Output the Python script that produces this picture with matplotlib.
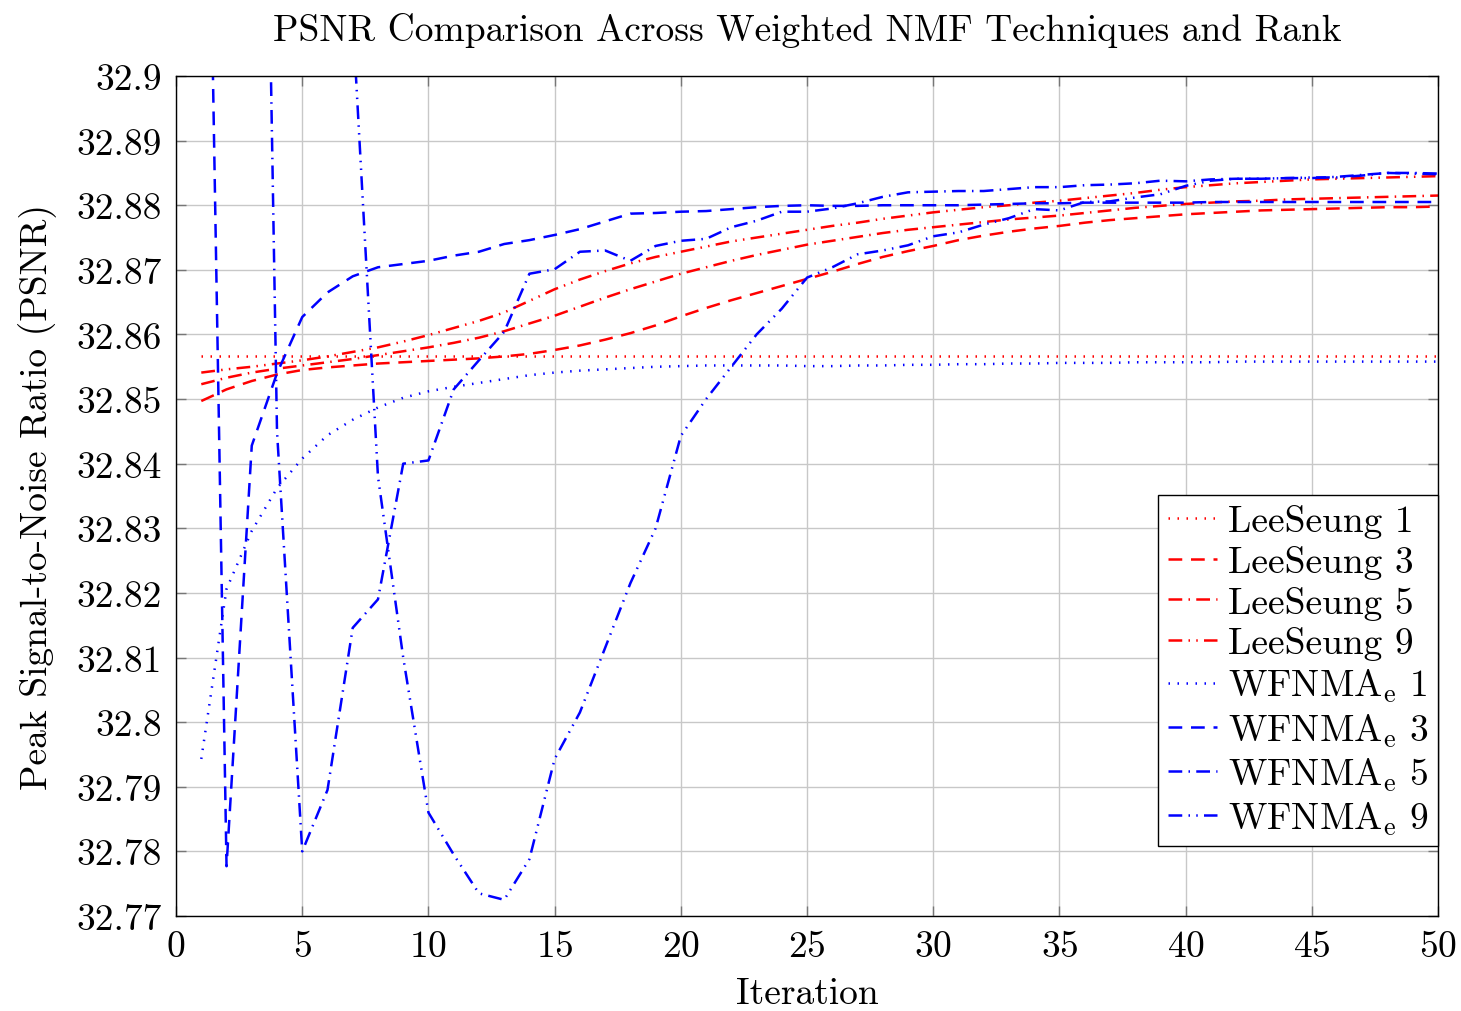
import matplotlib
matplotlib.use("Agg")
import matplotlib.pyplot as plt
from matplotlib.ticker import FuncFormatter, MultipleLocator

plt.rcParams['font.family'] = 'serif'
plt.rcParams['font.serif'] = ['cmr10', 'DejaVu Serif']
plt.rcParams['mathtext.fontset'] = 'cm'
plt.rcParams['axes.formatter.use_mathtext'] = True

# iteration axis
iters = list(range(1, 51))

# LeeSeung, ranks 1 / 3 / 5 / 9
ls1 = [32.8567, 32.8567, 32.8567, 32.8567, 32.8567, 32.8567, 32.8567, 32.8567, 32.8567, 32.8567,
       32.8567, 32.8567, 32.8567, 32.8567, 32.8567, 32.8567, 32.8567, 32.8567, 32.8567, 32.8567,
       32.8567, 32.8567, 32.8567, 32.8567, 32.8567, 32.8567, 32.8567, 32.8567, 32.8567, 32.8567,
       32.8567, 32.8567, 32.8567, 32.8567, 32.8567, 32.8567, 32.8567, 32.8567, 32.8567, 32.8567,
       32.8567, 32.8567, 32.8567, 32.8567, 32.8567, 32.8567, 32.8567, 32.8567, 32.8567, 32.8567]
ls3 = [32.8497, 32.8515, 32.8528, 32.8538, 32.8545, 32.8549, 32.8552, 32.8555, 32.8557, 32.8559,
       32.8561, 32.8563, 32.8566, 32.8570, 32.8576, 32.8583, 32.8592, 32.8602, 32.8614, 32.8628,
       32.8641, 32.8653, 32.8664, 32.8675, 32.8686, 32.8697, 32.8709, 32.8720, 32.8729, 32.8737,
       32.8746, 32.8753, 32.8759, 32.8764, 32.8768, 32.8773, 32.8777, 32.8780, 32.8783, 32.8786,
       32.8788, 32.8790, 32.8792, 32.8793, 32.8794, 32.8795, 32.8796, 32.8797, 32.8797, 32.8798]
ls5 = [32.8523, 32.8533, 32.8541, 32.8547, 32.8552, 32.8557, 32.8562, 32.8568, 32.8574, 32.8580,
       32.8587, 32.8595, 32.8605, 32.8617, 32.8629, 32.8643, 32.8657, 32.8670, 32.8682, 32.8694,
       32.8704, 32.8714, 32.8723, 32.8731, 32.8739, 32.8745, 32.8751, 32.8757, 32.8762, 32.8766,
       32.8770, 32.8774, 32.8778, 32.8781, 32.8784, 32.8788, 32.8792, 32.8796, 32.8799, 32.8802,
       32.8804, 32.8806, 32.8807, 32.8809, 32.8810, 32.8811, 32.8812, 32.8813, 32.8814, 32.8815]
ls9 = [32.8541, 32.8546, 32.8550, 32.8555, 32.8560, 32.8566, 32.8573, 32.8580, 32.8589, 32.8599,
       32.8610, 32.8621, 32.8634, 32.8652, 32.8670, 32.8685, 32.8698, 32.8710, 32.8720, 32.8728,
       32.8736, 32.8744, 32.8750, 32.8756, 32.8762, 32.8768, 32.8773, 32.8779, 32.8784, 32.8789,
       32.8793, 32.8797, 32.8800, 32.8804, 32.8807, 32.8811, 32.8815, 32.8819, 32.8824, 32.8828,
       32.8831, 32.8834, 32.8836, 32.8838, 32.8840, 32.8841, 32.8842, 32.8843, 32.8844, 32.8845]

# WFNMA_e, ranks 1 / 3 / 5 / 9 (first iterations of 3, 5, 9 run off the top)
wf1 = [32.7943, 32.8206, 32.8296, 32.8362, 32.8408, 32.8444, 32.8468, 32.8487, 32.8502, 32.8512,
       32.8519, 32.8525, 32.8531, 32.8537, 32.8541, 32.8544, 32.8546, 32.8548, 32.8550, 32.8551,
       32.8552, 32.8552, 32.8552, 32.8552, 32.8551, 32.8551, 32.8552, 32.8552, 32.8553, 32.8553,
       32.8554, 32.8554, 32.8555, 32.8555, 32.8556, 32.8556, 32.8556, 32.8557, 32.8557, 32.8557,
       32.8557, 32.8558, 32.8558, 32.8558, 32.8558, 32.8558, 32.8558, 32.8558, 32.8558, 32.8558]
wf3 = [33.0050, 32.7777, 32.8428, 32.8540, 32.8627, 32.8665, 32.8690, 32.8704, 32.8709, 32.8714,
       32.8722, 32.8728, 32.8740, 32.8746, 32.8754, 32.8763, 32.8775, 32.8787, 32.8788, 32.8790,
       32.8791, 32.8794, 32.8797, 32.8799, 32.8800, 32.8799, 32.8799, 32.8800, 32.8800, 32.8800,
       32.8800, 32.8801, 32.8802, 32.8803, 32.8803, 32.8804, 32.8804, 32.8804, 32.8804, 32.8804,
       32.8805, 32.8805, 32.8805, 32.8805, 32.8805, 32.8805, 32.8805, 32.8805, 32.8805, 32.8805]
wf5 = [33.5000, 33.3000, 33.0740, 32.8450, 32.7800, 32.7895, 32.8146, 32.8190, 32.8400, 32.8405,
       32.8515, 32.8560, 32.8604, 32.8694, 32.8701, 32.8728, 32.8730, 32.8714, 32.8737, 32.8745,
       32.8748, 32.8766, 32.8776, 32.8790, 32.8790, 32.8795, 32.8803, 32.8813, 32.8820, 32.8821,
       32.8822, 32.8822, 32.8825, 32.8828, 32.8828, 32.8831, 32.8832, 32.8834, 32.8838, 32.8837,
       32.8840, 32.8841, 32.8841, 32.8842, 32.8842, 32.8844, 32.8847, 32.8850, 32.8850, 32.8849]
wf9 = [33.9000, 33.7000, 33.5000, 33.3000, 33.1000, 32.9800, 32.9090, 32.8380, 32.8100, 32.7860,
       32.7795, 32.7735, 32.7725, 32.7788, 32.7943, 32.8015, 32.8115, 32.8215, 32.8300, 32.8443,
       32.8500, 32.8550, 32.8600, 32.8640, 32.8688, 32.8704, 32.8724, 32.8730, 32.8738, 32.8752,
       32.8758, 32.8770, 32.8780, 32.8794, 32.8792, 32.8805, 32.8806, 32.8812, 32.8817, 32.8830,
       32.8838, 32.8841, 32.8841, 32.8842, 32.8843, 32.8843, 32.8846, 32.8850, 32.8849, 32.8848]

labels = ["LeeSeung 1", "LeeSeung 3", "LeeSeung 5", "LeeSeung 9",
          r"WFNMA$_\mathrm{e}$ 1", r"WFNMA$_\mathrm{e}$ 3", r"WFNMA$_\mathrm{e}$ 5", r"WFNMA$_\mathrm{e}$ 9"]

# pgfplots-like dash patterns
dotted = (0, (0.6, 3.0))
dashed = (0, (5.5, 3.5))
dashdot = (0, (5.5, 2.5, 0.6, 2.5))
dashdotdot = (0, (5.5, 2.5, 0.6, 2.5, 0.6, 2.5))

fig = plt.figure(figsize=(14.61, 10.12), dpi=100)
ax = fig.add_axes([0.1205, 0.0939, 0.8638, 0.83])

series = [ls1, ls3, ls5, ls9, wf1, wf3, wf5, wf9]
colors = ["red"] * 4 + ["blue"] * 4
styles = [dotted, dashed, dashdot, dashdotdot] * 2

for ys, c, st, lab in zip(series, colors, styles, labels):
    ax.plot(iters, ys, color=c, linestyle=st, linewidth=1.8, label=lab,
            dash_capstyle='butt')

ax.set_xlim(0, 50)
ax.set_ylim(32.77, 32.9)
ax.xaxis.set_major_locator(MultipleLocator(5))
ax.yaxis.set_major_locator(MultipleLocator(0.01))
ax.yaxis.set_major_formatter(FuncFormatter(lambda v, p: "{:g}".format(round(v, 2))))

ax.grid(True, color="#c8c8c8", linewidth=1.0)
ax.set_axisbelow(True)
ax.tick_params(direction="in", length=7, width=1, color="#777777",
               top=True, right=True, labelsize=27, pad=10)
for sp in ax.spines.values():
    sp.set_linewidth(1.0)

ax.set_title("PSNR Comparison Across Weighted NMF Techniques and Rank", fontsize=27, pad=26)
ax.set_xlabel("Iteration", fontsize=27, labelpad=10)
ax.set_ylabel("Peak Signal-to-Noise Ratio (PSNR)", fontsize=27, labelpad=14)

leg = ax.legend(loc="lower right", bbox_to_anchor=(1.0, 0.083), borderaxespad=0,
                fontsize=27, fancybox=False, edgecolor="black", framealpha=1,
                handlelength=1.3, labelspacing=0.18, handletextpad=0.3, borderpad=0.25)
leg.get_frame().set_linewidth(1.0)

fig.savefig("out.png", dpi=100)
